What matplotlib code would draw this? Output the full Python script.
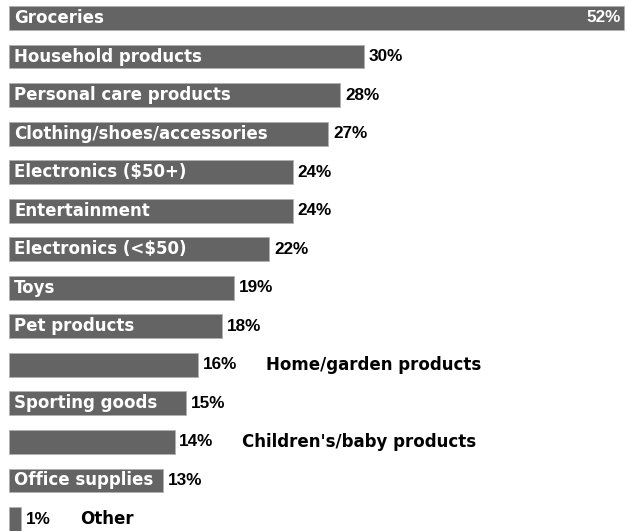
import matplotlib
matplotlib.use("Agg")
import matplotlib.pyplot as plt

categories = ["Groceries", "Household products", "Personal care products",
              "Clothing/shoes/accessories", "Electronics ($50+)", "Entertainment",
              "Electronics (<$50)", "Toys", "Pet products", "Home/garden products",
              "Sporting goods", "Children's/baby products", "Office supplies", "Other"]
values = [52, 30, 28, 27, 24, 24, 22, 19, 18, 16, 15, 14, 13, 1]
# labels that do not fit inside the bar are written after the percentage
outside = ["Home/garden products", "Children's/baby products", "Other"]

BAR = "#646464"
W, H = 628, 531
PX = 11.83  # pixels per percent

fig = plt.figure(figsize=(W / 100, H / 100), dpi=100)
ax = fig.add_axes([0, 0, 1, 1])
ax.set_xlim(-9 / PX, (W - 9) / PX)
ax.set_ylim((H - 18) / 38.54, -18 / 38.54)
ax.axis("off")

ys = range(len(categories))
ax.barh(ys, values, height=0.62, color=BAR, edgecolor="#b0b0b0", linewidth=0.6)

lab = dict(fontfamily="DejaVu Sans", fontweight="bold", fontsize=12, va="center")
pct = dict(fontfamily="Liberation Sans", fontweight="bold", fontsize=12.3, va="center")
for y, name, v in zip(ys, categories, values):
    if name == "Groceries":
        ax.text(0.45, y, name, color="white", **lab)
        ax.text(v - 0.25, y, f"{v}%", color="white", ha="right", **pct)
    elif name in outside:
        ax.text(v + 0.4, y, f"{v}%", color="black", **pct)
        ax.text(v + 4.3 + 0.7 * len(str(v)), y, name, color="black", **lab)
    else:
        ax.text(0.45, y, name, color="white", **lab)
        ax.text(v + 0.4, y, f"{v}%", color="black", **pct)

fig.savefig("out.png", dpi=100)
